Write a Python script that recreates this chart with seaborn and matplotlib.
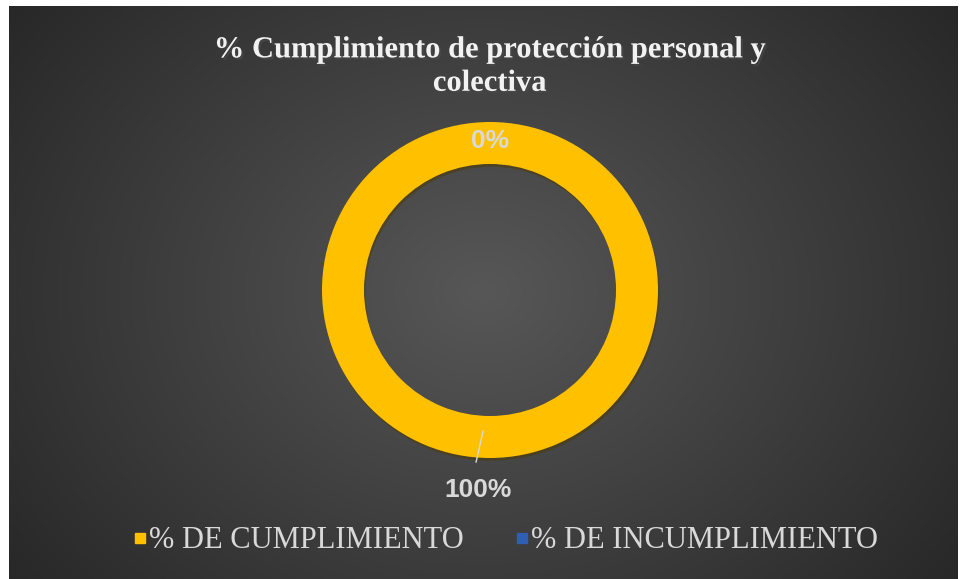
import numpy as np
import matplotlib
matplotlib.use("Agg")
import matplotlib.pyplot as plt
import matplotlib.patheffects as pe
from matplotlib.lines import Line2D
import seaborn as sns

categories = ["% DE CUMPLIMIENTO", "% DE INCUMPLIMIENTO"]
values = [100, 0]
colors = ["#FFC000", "#2E5FB5"]
title = "% Cumplimiento de protección personal y\ncolectiva"

sns.set_theme(style="white")
plt.rcParams["font.family"] = ["Liberation Serif", "DejaVu Serif"]

fig = plt.figure(figsize=(9.6, 5.79), dpi=100)
fig.patch.set_facecolor("white")

# dark radial-gradient background (chart area, white strip at left/top)
bg = fig.add_axes([9 / 960, 0, 949 / 960, 573 / 579])
yy, xx = np.mgrid[-1:1:300j, -1:1:500j]
rr = np.sqrt(xx ** 2 + (yy * 0.75) ** 2)
grad = np.clip(1 - rr / 1.3, 0, 1)
bg.imshow(grad, cmap=sns.blend_palette(["#262626", "#575757"], as_cmap=True),
          aspect="auto", extent=[0, 1, 0, 1], vmin=0, vmax=1)
bg.set_axis_off()

ax = fig.add_axes([290 / 960, 89 / 579, 400 / 960, 400 / 579])
lim = 200 / 168
wedges, _ = ax.pie(values, colors=colors, startangle=90, counterclock=False,
                   radius=1, wedgeprops=dict(width=0.25, edgecolor="none"))
for w in wedges:
    w.set_path_effects([pe.SimplePatchShadow(offset=(1, -2), alpha=0.5), pe.Normal()])
ax.set_xlim(-lim, lim)
ax.set_ylim(-lim, lim)
ax.set_aspect("equal")
ax.set_axis_off()

lbl_font = dict(family=["Liberation Sans", "DejaVu Sans"], fontsize=19,
                fontweight="bold", color="#D9D9D9")
total = sum(values)
for w, v in zip(wedges, values):
    mid = np.deg2rad((w.theta1 + w.theta2) / 2)
    txt = f"{v / total:.0%}"
    if v / total < 0.5:
        r = 0.875
        ax.text(r * np.cos(mid), r * np.sin(mid) + 0.01, txt, ha="center", va="center", **lbl_font)
    else:
        a = mid - np.deg2rad(2.8)
        ax.plot([0.84 * np.cos(a), -0.083], [0.84 * np.sin(a), 1.025 * np.sin(mid)],
                color="#D9D9D9", lw=1)
        ax.text(-0.07, 1.19 * np.sin(mid), txt, ha="center", va="center", **lbl_font)

fig.text(0.51, 0.885, title, ha="center", va="center", fontsize=22, fontweight="bold",
         color="#F2F2F2", linespacing=1.2,
         path_effects=[pe.SimplePatchShadow(offset=(1.5, -1.5), alpha=0.7), pe.Normal()])

handles = [Line2D([], [], marker="s", linestyle="none", markersize=7.5,
                  markerfacecolor=c, markeredgecolor=c) for c in colors]
leg = fig.legend(handles, categories, loc="center", bbox_to_anchor=(0.524, 0.066),
                 ncol=2, frameon=False, fontsize=22, handletextpad=-0.1,
                 columnspacing=1.5, handlelength=0.8)
for t in leg.get_texts():
    t.set_color("#D9D9D9")

fig.savefig("out.png", dpi=100)
